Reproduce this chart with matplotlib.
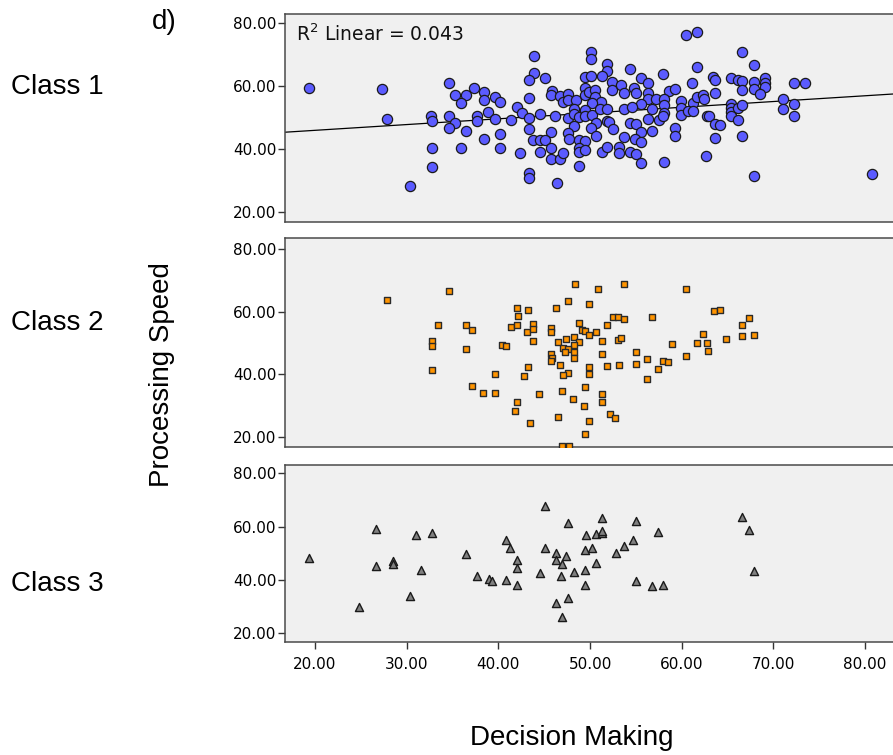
import numpy as np
import matplotlib
matplotlib.use("Agg")
import matplotlib.pyplot as plt
from matplotlib.ticker import FormatStrFormatter, FixedLocator

# ---------------- data ----------------
class1_x = [19.3, 27.3, 27.9, 30.4, 32.8, 32.8, 32.7, 32.8, 34.6, 35.3, 36.5, 35.9, 37.3, 38.4, 38.4,
            34.6, 35.3, 34.6, 36.5, 35.9, 37.7, 37.7, 38.4, 38.9, 39.6, 40.2, 42.0, 39.6, 41.4, 40.2,
            40.2, 42.4, 43.9, 50.1, 50.1, 51.9, 51.9, 43.9, 43.3, 45.1, 49.4, 50.1, 51.3, 52.4, 52.4,
            43.3, 45.8, 45.7, 46.7, 47.6, 47.0, 47.6, 48.5, 49.4, 49.4, 49.9, 50.5, 50.5, 51.2, 50.2,
            42.6, 43.3, 44.5, 46.2, 47.6, 48.2, 48.2, 48.8, 49.4, 49.5, 50.2, 51.1, 51.9, 50.7, 51.8,
            52.1, 52.5, 48.2, 50.1, 50.6, 43.3, 45.7, 47.6, 47.7, 43.8, 44.5, 45.1, 45.7, 44.5, 45.7,
            46.7, 47.1, 48.8, 49.4, 48.8, 48.8, 49.4, 48.8, 51.3, 51.9, 43.3, 43.3, 46.4,
            54.4, 58.0, 61.7, 55.6, 56.3, 53.4, 54.8, 53.7, 55.0, 56.3, 58.6, 59.3, 61.1, 56.3, 57.2,
            58.1, 55.6, 58.1, 59.9, 61.2, 61.7, 62.3, 62.4, 53.7, 54.6, 56.8, 58.1, 59.9, 59.9, 60.7,
            61.2, 62.8, 56.3, 57.5, 58.0, 54.4, 55.0, 55.6, 56.8, 59.3, 59.3, 53.7, 54.9, 55.6, 53.2,
            53.2, 54.4, 55.0, 55.6, 58.1, 62.6,
            60.5, 61.7, 66.6, 67.9, 63.4, 63.6, 65.4, 66.1, 66.6, 67.9, 67.9, 69.1, 69.1, 69.1, 72.2,
            73.4, 66.6, 68.5, 63.6, 65.4, 65.4, 65.4, 66.1, 66.6, 65.4, 66.1, 71.0, 71.0, 72.2, 72.2,
            63.0, 63.6, 64.2, 66.6, 63.6, 67.9, 80.8]
class1_y = [59.6, 59.0, 49.6, 28.4, 40.5, 34.4, 50.4, 49.1, 61.1, 57.1, 57.2, 54.8, 59.6, 58.3, 55.7,
            50.4, 48.4, 46.7, 45.8, 40.3, 50.4, 49.0, 43.4, 51.7, 56.5, 55.1, 53.5, 49.6, 49.3, 44.8,
            40.3, 38.9, 69.7, 71.0, 68.7, 67.1, 65.0, 64.3, 62.0, 62.7, 62.9, 63.3, 63.3, 61.5, 58.8,
            56.4, 58.6, 57.2, 56.9, 57.7, 55.1, 55.7, 55.7, 59.4, 57.2, 58.3, 58.8, 56.5, 55.1, 54.6,
            51.6, 49.8, 51.2, 50.6, 50.0, 52.8, 51.2, 50.2, 52.5, 50.6, 50.9, 52.7, 52.8, 48.4, 49.1,
            48.8, 46.3, 47.4, 46.7, 44.2, 46.3, 45.4, 45.1, 43.3, 43.0, 43.0, 43.0, 40.3, 39.0, 36.9,
            36.9, 38.7, 43.0, 42.7, 40.3, 39.0, 39.8, 34.8, 39.0, 40.8, 32.4, 31.0, 29.4,
            65.4, 63.9, 66.2, 62.5, 61.0, 60.4, 59.6, 57.8, 57.8, 58.0, 58.6, 59.0, 61.1, 55.9, 56.1,
            56.1, 54.3, 54.1, 55.3, 54.6, 56.7, 57.2, 56.1, 52.8, 53.3, 52.8, 51.6, 53.2, 50.9, 52.2,
            52.2, 50.4, 49.6, 49.3, 50.4, 48.3, 48.0, 45.6, 45.8, 46.7, 44.2, 44.0, 43.2, 42.4, 40.8,
            38.9, 39.0, 38.5, 35.6, 36.1, 37.7,
            76.3, 77.1, 71.0, 66.8, 62.8, 62.0, 62.5, 62.0, 61.7, 61.3, 59.0, 62.5, 61.1, 59.9, 61.1,
            61.0, 58.8, 57.5, 57.8, 54.4, 53.0, 51.9, 53.0, 54.0, 50.4, 49.3, 55.8, 52.7, 54.4, 50.4,
            50.4, 48.0, 47.7, 44.3, 43.5, 31.6, 32.1]

class2_x = [27.9, 34.6, 33.4, 32.8, 32.8, 32.8, 36.5, 37.1, 36.5, 40.4, 40.8, 39.6, 37.1, 38.3, 39.6,
            42.0, 42.1, 43.2, 41.4, 42.0, 43.1, 43.8, 43.8, 43.8, 43.2, 42.8, 42.0, 41.8, 44.4, 43.5,
            46.3, 47.6, 48.4, 45.7, 45.7, 48.8, 49.1, 49.4, 49.9, 49.9, 46.5, 47.4, 48.2, 48.8, 48.2,
            47.1, 47.6, 47.3, 48.2, 48.2, 45.7, 45.9, 45.7, 46.7, 49.9, 47.6, 47.0, 49.9, 46.9, 49.4,
            48.1, 49.3, 49.9, 46.5, 49.4, 46.9, 47.7,
            50.9, 53.7, 52.5, 53.1, 53.7, 51.9, 50.6, 51.3, 53.1, 53.4, 51.3, 51.9, 53.2, 51.3, 51.3,
            52.2, 52.7, 55.0, 55.0, 56.2, 56.2, 56.8, 57.4, 58.0, 58.5, 58.9, 60.5, 60.5, 61.7, 62.3,
            62.8, 62.9, 63.5, 64.2, 64.8, 66.6, 67.3, 66.6, 67.9]
class2_y = [63.7, 66.7, 55.7, 50.6, 49.1, 41.3, 55.7, 54.0, 47.9, 49.3, 49.1, 40.0, 36.3, 34.1, 34.1,
            61.0, 58.7, 60.4, 55.0, 55.6, 53.5, 56.1, 54.3, 50.5, 42.3, 39.5, 31.0, 28.2, 33.5, 24.3,
            61.1, 63.4, 68.7, 54.8, 53.6, 56.4, 54.1, 53.7, 52.5, 62.3, 50.4, 51.2, 51.8, 50.4, 49.3,
            48.4, 47.9, 47.0, 47.0, 45.1, 46.5, 45.2, 44.2, 42.9, 42.4, 40.5, 39.7, 39.9, 34.6, 35.8,
            32.1, 29.8, 25.0, 26.4, 20.9, 17.1, 17.1,
            67.1, 68.9, 58.3, 58.3, 57.6, 55.6, 53.4, 50.5, 50.8, 51.5, 46.3, 42.6, 43.0, 33.6, 31.1,
            27.3, 26.0, 47.0, 43.1, 44.9, 38.4, 58.3, 41.6, 44.3, 43.9, 49.5, 67.1, 45.8, 50.0, 52.7,
            50.0, 47.5, 60.1, 60.5, 51.3, 55.7, 57.8, 52.1, 52.4]

class3_x = [19.3, 24.8, 26.7, 26.7, 28.5, 28.5, 30.4, 31.0, 31.6, 32.8, 36.5, 37.7, 39.0, 39.3, 40.8,
            41.3, 40.8, 42.0, 42.0, 42.0, 44.5, 45.1, 45.1, 46.3, 46.3, 46.9, 47.4, 46.8, 46.3, 47.6,
            46.9, 47.6, 48.2, 49.4, 49.6, 49.4, 49.4, 50.2, 50.6, 51.3, 51.3, 51.3, 50.6, 52.8, 53.7,
            54.7, 55.0, 55.0, 56.8, 58.0, 57.4, 66.6, 67.3, 67.9]
class3_y = [48.4, 29.8, 59.1, 45.2, 47.1, 45.9, 34.1, 56.9, 43.7, 57.7, 49.7, 41.5, 40.4, 39.7, 55.0,
            51.9, 40.0, 47.5, 44.6, 38.1, 42.7, 67.9, 51.9, 50.0, 47.5, 45.9, 49.0, 41.5, 31.5, 33.1,
            26.0, 61.3, 43.1, 51.2, 56.9, 43.7, 38.1, 51.9, 57.2, 57.7, 63.1, 58.5, 46.5, 50.0, 52.7,
            55.0, 62.2, 39.7, 37.7, 38.1, 57.9, 63.7, 58.7, 43.4]

class_labels = ["Class 1", "Class 2", "Class 3"]
y_ticks = [20, 40, 60, 80]
x_ticks = [20, 30, 40, 50, 60, 70, 80]
r2_text = "R$^2$ Linear = 0.043"
x_title = "Decision Making"
y_title = "Processing Speed"
panel_tag = "d)"

# ---------------- figure ----------------
W, H = 893, 755
fig = plt.figure(figsize=(W / 100, H / 100), dpi=100)
fig.patch.set_facecolor("white")

def frac_box(left_px, top_px, right_px, bottom_px):
    return [left_px / W, 1 - bottom_px / H, (right_px - left_px) / W, (bottom_px - top_px) / H]

boxes = [frac_box(285, 14, 900, 222.3),
         frac_box(285, 238.3, 900, 447),
         frac_box(285, 464.7, 900, 641.7)]
ylims = [(16.8, 82.95), (16.7, 83.4), (16.85, 83.2)]
xlim = (16.73, 83.8)

data = [(class1_x, class1_y, dict(marker="o", s=54, c="#5b5bff", edgecolors="#1a1a1a", linewidths=0.9)),
        (class2_x, class2_y, dict(marker="s", s=24, c="#ff9400", edgecolors="#2a2a2a", linewidths=1.0)),
        (class3_x, class3_y, dict(marker="^", s=34, c="#808080", edgecolors="#1a1a1a", linewidths=1.0))]

axes = []
for i, (box, yl, (xs, ys, style)) in enumerate(zip(boxes, ylims, data)):
    ax = fig.add_axes(box)
    ax.set_facecolor("#f0f0f0")
    ax.scatter(xs, ys, zorder=3, **style)
    ax.set_xlim(*xlim)
    ax.set_ylim(*yl)
    ax.yaxis.set_major_locator(FixedLocator(y_ticks))
    ax.yaxis.set_major_formatter(FormatStrFormatter("%.2f"))
    ax.tick_params(axis="y", direction="out", length=5, width=1.0, color="#333333",
                   labelsize=11, pad=1)
    for sp in ax.spines.values():
        sp.set_color("#4a4a4a")
        sp.set_linewidth(1.1)
    ax.spines["right"].set_visible(False)
    if i < 2:
        ax.set_xticks([])
    else:
        ax.xaxis.set_major_locator(FixedLocator(x_ticks))
        ax.xaxis.set_major_formatter(FormatStrFormatter("%.2f"))
        ax.tick_params(axis="x", direction="out", length=5, width=1.0, color="#333333",
                       labelsize=11, pad=6)
    for lab in ax.get_yticklabels() + ax.get_xticklabels():
        lab.set_fontfamily("DejaVu Sans")
    axes.append(ax)

# regression line for class 1
slope, intercept = np.polyfit(class1_x, class1_y, 1)
xx = np.array(xlim)
axes[0].plot(xx, intercept + slope * xx, color="black", lw=0.9, zorder=2)
axes[0].text(0.018, 0.905, r2_text, transform=axes[0].transAxes, fontsize=13.5,
             ha="left", va="center", color="#111111", family="DejaVu Sans")

# text labels
lab_font = dict(family="Liberation Sans", fontsize=20, color="black")
for lab, ypx in zip(class_labels, [87, 323, 584]):
    fig.text(11 / W, 1 - ypx / H, lab, ha="left", va="center", **lab_font)
fig.text(162 / W, 1 - 375 / H, y_title, rotation=90, ha="center", va="center", **lab_font)
fig.text(572 / W, 1 - 738 / H, x_title, ha="center", va="center", **lab_font)
fig.text(152 / W, 1 - 22 / H, panel_tag, ha="left", va="center", **lab_font)

fig.savefig("out.png", dpi=100)
